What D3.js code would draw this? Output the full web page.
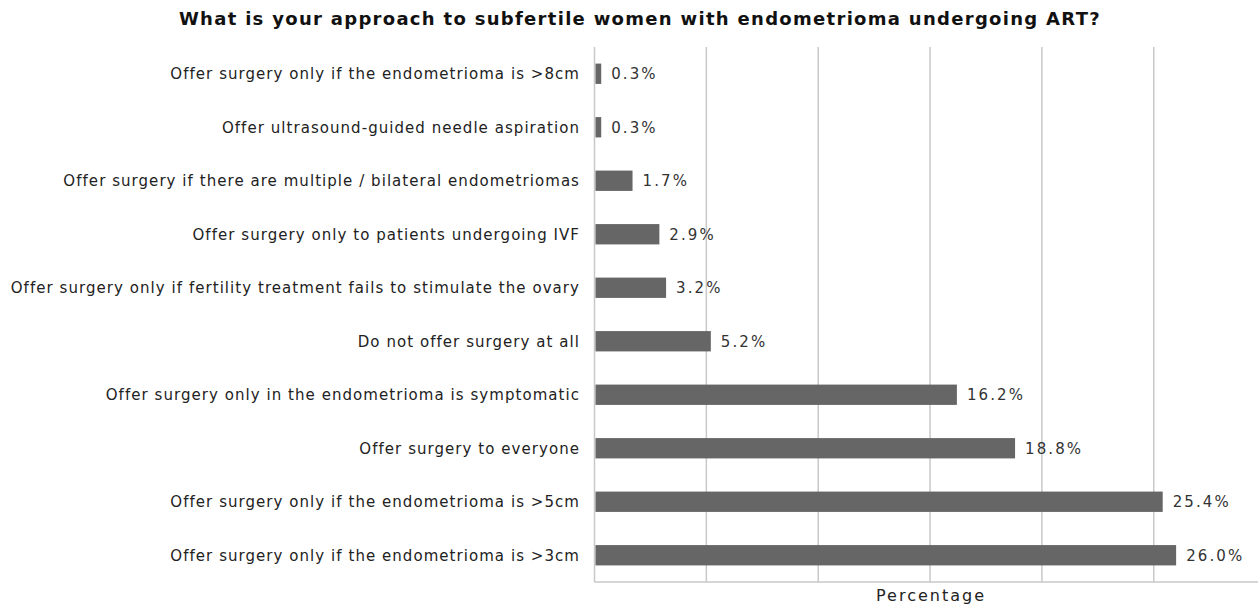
<!DOCTYPE html>
<html lang="en">
<head>
<meta charset="utf-8">
<script src="https://cdnjs.cloudflare.com/ajax/libs/d3/7.8.5/d3.min.js"></script>
<title>Approach to endometrioma</title>
<style>
    body { margin: 0; background: #fff; }
    svg { display: block; font-family: "DejaVu Sans", Verdana, sans-serif; }
</style>
</head>
<body>
<svg width="1258" height="606"></svg>
<script>
    var categories = [
        "Offer surgery only if the endometrioma is >8cm",
        "Offer ultrasound-guided needle aspiration",
        "Offer surgery if there are multiple / bilateral endometriomas",
        "Offer surgery only to patients undergoing IVF",
        "Offer surgery only if fertility treatment fails to stimulate the ovary",
        "Do not offer surgery at all",
        "Offer surgery only in the endometrioma is symptomatic",
        "Offer surgery to everyone",
        "Offer surgery only if the endometrioma is >5cm",
        "Offer surgery only if the endometrioma is >3cm"
    ];
    var values = [0.3, 0.3, 1.7, 2.9, 3.2, 5.2, 16.2, 18.8, 25.4, 26.0];
    var gridTicks = [0, 5, 10, 15, 20, 25];

    var svg = d3.select("svg");
    var plotLeft = 594.5, plotRight = 1258, plotTop = 47, plotBottom = 582;

    var x = d3.scaleLinear().domain([0, 29.66]).range([plotLeft, plotRight]);
    var y = d3.scaleBand().domain(categories).range([plotTop, plotBottom])
        .paddingInner(0.62).paddingOuter(0.31);

    svg.append("text")
        .attr("x", 640)
        .attr("y", 25)
        .attr("text-anchor", "middle")
        .attr("font-weight", "bold")
        .attr("font-size", "18px")
        .attr("letter-spacing", "1.3px")
        .attr("fill", "#111")
        .text("What is your approach to subfertile women with endometrioma undergoing ART?");

    // gridlines
    svg.append("g")
        .selectAll("line")
        .data(gridTicks)
        .enter().append("line")
        .attr("x1", function(d) { return x(d); })
        .attr("x2", function(d) { return x(d); })
        .attr("y1", plotTop)
        .attr("y2", plotBottom)
        .attr("stroke", "#c8c8c8")
        .attr("stroke-width", 1.5);

    // bottom axis line
    svg.append("line")
        .attr("x1", plotLeft).attr("x2", plotRight)
        .attr("y1", plotBottom).attr("y2", plotBottom)
        .attr("stroke", "#c8c8c8")
        .attr("stroke-width", 1.5);

    svg.selectAll(".bar")
        .data(values)
        .enter().append("rect")
        .attr("class", "bar")
        .attr("x", x(0) + 1)
        .attr("y", function(d, i) { return y(categories[i]); })
        .attr("width", function(d) { return x(d) - x(0) - 1; })
        .attr("height", y.bandwidth())
        .attr("fill", "#666");

    svg.selectAll(".val")
        .data(values)
        .enter().append("text")
        .attr("class", "val")
        .attr("x", function(d) { return x(d) + 10; })
        .attr("y", function(d, i) { return y(categories[i]) + y.bandwidth() / 2; })
        .attr("dy", "0.35em")
        .attr("font-size", "15px")
        .attr("letter-spacing", "2.1px")
        .attr("fill", "#333")
        .text(function(d) { return d.toFixed(1) + "%"; });

    svg.selectAll(".cat")
        .data(categories)
        .enter().append("text")
        .attr("class", "cat")
        .attr("x", 580)
        .attr("y", function(d) { return y(d) + y.bandwidth() / 2; })
        .attr("dy", "0.35em")
        .attr("text-anchor", "end")
        .attr("font-size", "15px")
        .attr("letter-spacing", "1.05px")
        .attr("fill", "#222")
        .text(function(d) { return d; });

    svg.append("text")
        .attr("x", 931)
        .attr("y", 601)
        .attr("text-anchor", "middle")
        .attr("font-size", "16px")
        .attr("letter-spacing", "2px")
        .attr("fill", "#222")
        .text("Percentage");
</script>
</body>
</html>
